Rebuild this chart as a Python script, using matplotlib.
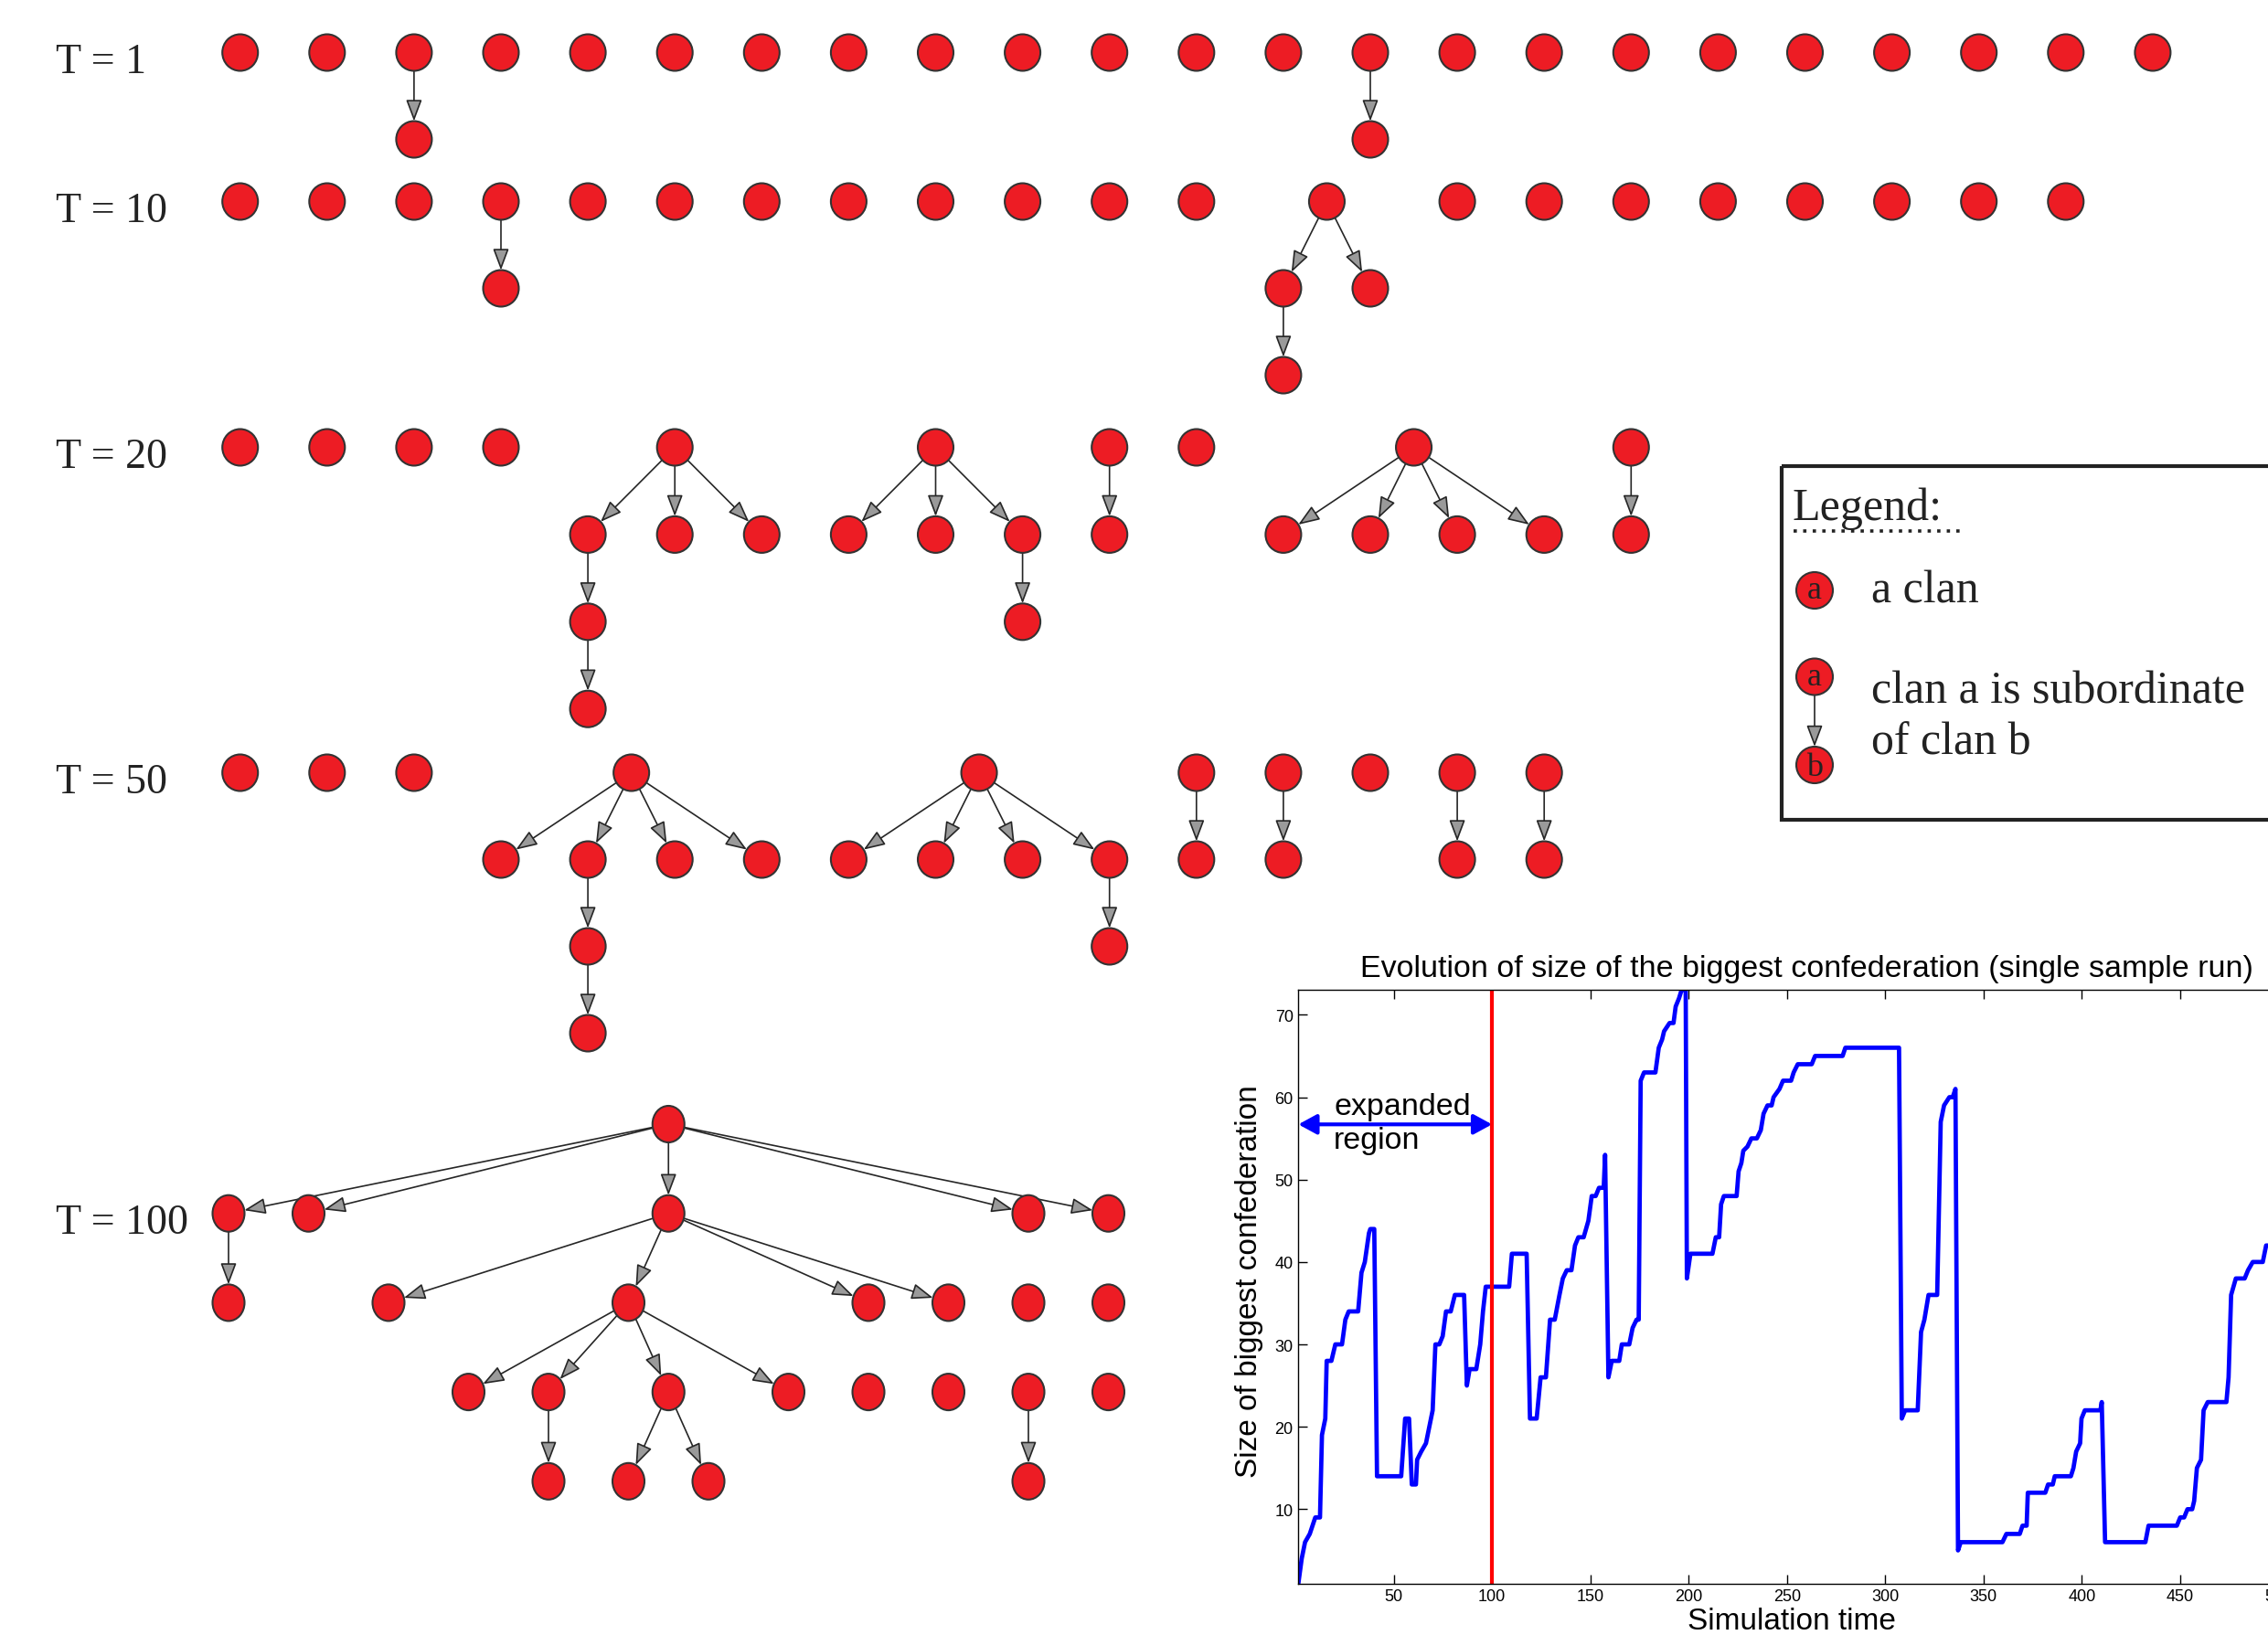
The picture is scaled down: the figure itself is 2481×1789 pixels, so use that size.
import matplotlib
matplotlib.use("Agg")
import matplotlib.pyplot as plt
from matplotlib.patches import Ellipse, FancyArrowPatch, Rectangle
import numpy as np

plt.rcParams["font.family"] = ["Liberation Sans", "DejaVu Sans"]

W, H = 2481, 1790
SERIF = ["Liberation Serif", "DejaVu Serif"]
NODE_FACE = "#ed1c24"
NODE_EDGE = "#333333"

# ---- clan hierarchies: nodes are (column, level) on a grid, edges go superior -> subordinate
SNAP_LABELS = ["T = 1", "T = 10", "T = 20", "T = 50", "T = 100"]

T1_NODES = [(c, 0) for c in range(23)] + [(2, 1), (13, 1)]
T1_EDGES = [((2, 0), (2, 1)), ((13, 0), (13, 1))]

T10_NODES = ([(c, 0) for c in range(12)] + [(12.5, 0)] + [(c, 0) for c in range(14, 22)]
             + [(3, 1), (12, 1), (13, 1), (12, 2)])
T10_EDGES = [((3, 0), (3, 1)), ((12.5, 0), (12, 1)), ((12.5, 0), (13, 1)), ((12, 1), (12, 2))]

T20_NODES = ([(c, 0) for c in (0, 1, 2, 3, 5, 8, 10, 11, 13.5, 16)]
             + [(c, 1) for c in (4, 5, 6, 7, 8, 9, 10, 12, 13, 14, 15, 16)]
             + [(4, 2), (9, 2), (4, 3)])
T20_EDGES = ([((5, 0), (c, 1)) for c in (4, 5, 6)]
             + [((8, 0), (c, 1)) for c in (7, 8, 9)]
             + [((10, 0), (10, 1))]
             + [((13.5, 0), (c, 1)) for c in (12, 13, 14, 15)]
             + [((16, 0), (16, 1)), ((4, 1), (4, 2)), ((9, 1), (9, 2)), ((4, 2), (4, 3))])

T50_NODES = ([(c, 0) for c in (0, 1, 2, 4.5, 8.5, 11, 12, 13, 14, 15)]
             + [(c, 1) for c in (3, 4, 5, 6, 7, 8, 9, 10, 11, 12, 14, 15)]
             + [(4, 2), (10, 2), (4, 3)])
T50_EDGES = ([((4.5, 0), (c, 1)) for c in (3, 4, 5, 6)]
             + [((8.5, 0), (c, 1)) for c in (7, 8, 9, 10)]
             + [((c, 0), (c, 1)) for c in (11, 12, 14, 15)]
             + [((4, 1), (4, 2)), ((10, 1), (10, 2)), ((4, 2), (4, 3))])

T100_NODES = ([(5.5, 0)]
              + [(c, 1) for c in (0, 1, 5.5, 10, 11)]
              + [(c, 2) for c in (0, 2, 5, 8, 9, 10, 11)]
              + [(c, 3) for c in (3, 4, 5.5, 7, 8, 9, 10, 11)]
              + [(c, 4) for c in (4, 5, 6, 10)])
T100_EDGES = ([((5.5, 0), (c, 1)) for c in (0, 1, 5.5, 10, 11)]
              + [((0, 1), (0, 2))]
              + [((5.5, 1), (c, 2)) for c in (2, 5, 8, 9)]
              + [((5, 2), (c, 3)) for c in (3, 4, 5.5, 7)]
              + [((4, 3), (4, 4)), ((5.5, 3), (5, 4)), ((5.5, 3), (6, 4)), ((10, 3), (10, 4))])

SNAP_NODES = [T1_NODES, T10_NODES, T20_NODES, T50_NODES, T100_NODES]
SNAP_EDGES = [T1_EDGES, T10_EDGES, T20_EDGES, T50_EDGES, T100_EDGES]

# ---- biggest confederation size over time
TIME = [1.5, 3.2, 4.9, 7.3, 10.1, 12.5, 13.5, 15.2, 15.9, 18.3, 20.3, 23.7, 25.4, 27.1, 31.9,
        33.6, 35.3, 37.4, 38.1, 40.1, 41.5, 53.8, 55.8, 57.8, 59.2, 61.3, 61.9, 64.0, 66.4, 68.1,
        69.8, 71.2, 73.2, 74.9, 76.6, 79.0, 81.1, 85.8, 87.2, 88.6, 92.0, 94.0, 95.4, 96.8, 108.7,
        110.1, 117.6, 119.3, 122.7, 124.7, 127.4, 129.5, 131.9, 134.3, 136.0, 138.0, 140.4, 142.2,
        143.9, 146.6, 149.0, 150.7, 152.7, 154.4, 156.8, 157.5, 159.2, 160.9, 164.7, 166.0, 169.8,
        171.5, 173.5, 174.6, 175.6, 177.3, 183.1, 184.8, 186.5, 187.5, 190.3, 192.3, 193.4, 195.1,
        196.4, 198.5, 199.1, 200.9, 212.1, 213.8, 215.5, 216.5, 217.9, 224.4, 225.4, 226.8, 227.8,
        229.9, 231.9, 234.7, 236.7, 238.1, 240.1, 242.2, 243.2, 246.2, 248.0, 252.1, 253.4, 255.5,
        262.6, 264.3, 278.3, 279.7, 307.0, 308.4, 310.1, 316.5, 318.2, 319.9, 322.0, 326.4, 328.2,
        329.9, 332.6, 334.3, 335.7, 337.0, 338.4, 359.6, 361.6, 368.4, 369.8, 371.9, 372.5, 381.4,
        382.8, 385.2, 386.2, 394.4, 395.7, 397.1, 399.1, 399.8, 401.5, 409.4, 410.1, 411.8, 432.3,
        433.9, 448.3, 450.0, 452.0, 453.7, 456.1, 457.1, 458.5, 460.6, 461.9, 464.0, 473.5, 474.6,
        475.9, 478.3, 482.8, 484.5, 486.9, 492.0, 493.7, 500.0]
CONF_SIZE = [1, 4, 6, 7, 9, 9, 19, 21, 28, 28, 30, 30, 33, 34, 34,
             38.7, 40, 43.5, 44, 44, 14, 14, 21, 21, 13, 13, 16, 17, 18, 20,
             22, 30, 30, 31, 34, 34, 36, 36, 25, 27, 27, 30, 34, 37, 37,
             41, 41, 21, 21, 26, 26, 33, 33, 36, 38, 39, 39, 42,
             43, 43, 45, 48, 48, 49, 49, 53, 26, 28, 28, 30, 30,
             32, 33, 33, 62, 63, 63, 66, 67, 68, 69, 69, 71, 72,
             73, 73, 38, 41, 41, 43, 43, 47, 48, 48, 51, 52, 53.5,
             54, 55, 55, 56, 58, 59, 59, 60, 61, 62, 62, 63, 64,
             64, 65, 65, 66, 66, 21, 22, 22, 31.5, 33, 36, 36, 57,
             59, 60, 60, 61, 5, 6, 6, 7, 7, 8, 8, 12, 12,
             13, 13, 14, 14, 15, 17, 18, 21, 22, 22, 23, 6, 6,
             8, 8, 9, 9, 10, 10, 11, 15, 16, 22, 23, 23, 26,
             36, 38, 38, 39, 40, 40, 42, 42]
X_TICKS = [50, 100, 150, 200, 250, 300, 350, 400, 450, 500]
Y_TICKS = [10, 20, 30, 40, 50, 60, 70]
MARK_T = 100

# grid layout of each snapshot in pixels: x0, y0, dx, dy, node w, node h, row of the label
LAYOUT = [
    (262.7, 58.5, 95.1, 95.0, 39, 40, 0),
    (262.7, 221.5, 95.1, 95.0, 39, 40, 0),
    (262.7, 490.5, 95.1, 95.4, 39, 40, 0),
    (262.7, 846.5, 95.1, 95.0, 39, 40, 0),
    (250.0, 1231.0, 87.5, 97.7, 35, 40, 1),
]


def boundary(w, h, ux, uy):
    a, b = w / 2.0, h / 2.0
    return 1.0 / np.sqrt((ux / a) ** 2 + (uy / b) ** 2)


def draw_arrow(ax, p, q, w, h):
    dx, dy = q[0] - p[0], q[1] - p[1]
    n = np.hypot(dx, dy)
    ux, uy = dx / n, dy / n
    r = boundary(w, h, ux, uy)
    a = FancyArrowPatch((p[0] + r * ux, p[1] + r * uy), (q[0] - r * ux, q[1] - r * uy),
                        arrowstyle="-|>,head_length=0.8,head_width=0.3", mutation_scale=18,
                        lw=1.2, ec="#262626", fc="#9a9a9a", shrinkA=0, shrinkB=0, zorder=2)
    ax.add_patch(a)


def draw_node(ax, x, y, w, h):
    ax.add_patch(Ellipse((x, y), w, h, fc=NODE_FACE, ec=NODE_EDGE, lw=1.5, zorder=3))


fig = plt.figure(figsize=(W / 100, H / 100), dpi=100)
ax = fig.add_axes([0, 0, 1, 1])
ax.set_xlim(0, W)
ax.set_ylim(H, 0)
ax.axis("off")

for label, nodes, edges, (x0, y0, dx, dy, w, h, lrow) in zip(SNAP_LABELS, SNAP_NODES, SNAP_EDGES, LAYOUT):
    pos = {k: (x0 + dx * k[0], y0 + dy * k[1]) for k in nodes}
    for a, b in edges:
        draw_arrow(ax, pos[a], pos[b], w, h)
    for k in nodes:
        draw_node(ax, *pos[k], w, h)
    ax.text(61, y0 + dy * lrow + 21, label, family=SERIF, fontsize=33, ha="left", va="baseline",
            color="#222222")

# legend box
ax.add_patch(Rectangle((1949, 511), 800, 387, fill=False, ec="#222222", lw=3, zorder=4))
ax.text(1961, 569, "Legend:", family=SERIF, fontsize=36, color="#222222", va="baseline")
ax.plot([1962, 2146], [582, 582], color="#222222", lw=2.6, ls=(0, (1, 1.9)), solid_capstyle="butt",
        dash_capstyle="butt")
for y, ch in [(647, "a"), (741.5, "a"), (838, "b")]:
    draw_node(ax, 1985, y, 40, 40)
    ax.text(1985, y + (8 if ch == "a" else 11), ch, family=SERIF, fontsize=26, ha="center",
            va="baseline", color="#222222", zorder=5)
draw_arrow(ax, (1985, 741.5), (1985, 838), 40, 40)
ax.text(2047, 659, "a clan", family=SERIF, fontsize=36, color="#222222", va="baseline")
ax.text(2047, 770, "clan a is subordinate", family=SERIF, fontsize=36, color="#222222", va="baseline")
ax.text(2047, 826, "of clan b", family=SERIF, fontsize=36, color="#222222", va="baseline")

# inset: biggest confederation
ax2 = fig.add_axes([1420.3 / W, 1 - 1733.5 / H, 1093.7 / W, 649.2 / H])
ax2.plot(TIME, CONF_SIZE, color="#0000ff", lw=3.4, solid_joinstyle="round")
ax2.axvline(MARK_T, color="#ff0000", lw=3)
ax2.annotate("", xy=(1.5, 56.7), xytext=(MARK_T, 56.7),
             arrowprops=dict(arrowstyle="<|-|>,head_length=0.55,head_width=0.3", color="#0000ff",
                             lw=3, shrinkA=0, shrinkB=0, mutation_scale=22))
ax2.text(19.5, 57.9, "expanded", fontsize=24.5, va="baseline")
ax2.text(19.5, 53.9, "region", fontsize=24.5, va="baseline")
ax2.set_xlim(1.5, 510)
ax2.set_ylim(1, 73)
ax2.set_xticks(X_TICKS)
ax2.set_yticks(Y_TICKS)
ax2.tick_params(direction="in", top=True, right=True, length=7, width=1, labelsize=13, pad=4)
for s in ax2.spines.values():
    s.set_linewidth(1)

ax.text(1976, 1069, "Evolution of size of the biggest confederation (single sample run)",
        fontsize=24.5, ha="center", va="baseline")
ax.text(1366, 1402, "Size of biggest confederation", fontsize=24, rotation=90, ha="center", va="center")
ax.text(1960, 1783, "Simulation time", fontsize=24, ha="center", va="baseline")

fig.savefig("out.png", dpi=100)
